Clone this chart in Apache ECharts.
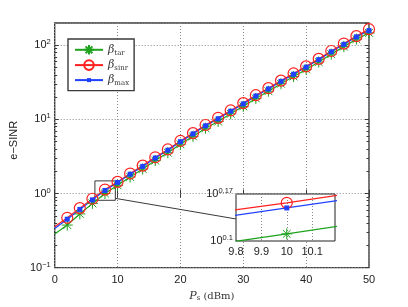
<!DOCTYPE html>
<html><head><meta charset="utf-8">
<script src="https://cdn.jsdelivr.net/npm/echarts@6/dist/echarts.min.js"></script>
<style>html,body{margin:0;padding:0;background:#fff}#c{width:408px;height:307px}</style>
</head><body><div id="c"></div>
<script>
// ---- data ----
const powerDbm = [0,2,4,6,8,10,12,14,16,18,20,22,24,26,28,30,32,34,36,38,40,42,44,46,48,50];
const betaTar  = [0.285,0.375,0.53,0.735,1.0,1.29,1.67,2.14,2.78,3.55,4.62,5.9,7.6,9.35,11.9,15.0,19.2,24.0,30.3,37.9,47.3,59.5,76,96,121,147];
const betaSinr = [0.356,0.47,0.635,0.85,1.13,1.435,1.86,2.38,3.08,3.93,5.12,6.53,8.4,10.5,13.2,16.6,21.2,26.4,33.4,41.7,52,65.6,83.8,105.5,133,165];
const betaMax  = [0.338,0.45,0.61,0.82,1.10,1.41,1.82,2.32,3.01,3.84,5.0,6.38,8.2,10.2,12.9,16.2,20.7,25.8,32.6,40.7,50.8,64,81.8,103,130,158];
const seriesNames = ['tar','sinr','max'];
const yMinorTicks = [0.2,0.3,0.4,0.5,0.6,0.7,0.8,0.9,2,3,4,5,6,7,8,9,20,30,40,50,60,70,80,90];
const insetYExponents = [0.1,0.17];
const zoomBox = {x0:6.4, x1:9.65, y0:0.81, y1:1.48};
const arrowLine = {from:[9.65,0.86], to:[28.8,0.454]};

// ---- styles ----
const GREEN='#1fa31f', RED='#ff2020', BLUE='#2040ff', FRAME='#3a3a3a';
const STAR='path://M0,-10L0,10M-10,0L10,0M-7.07,-7.07L7.07,7.07M-7.07,7.07L7.07,-7.07';
// small square inside a larger invisible frame so the legend icon stays small
const SMALLSQ='path://M-12,-12M12,12M-5,-5L5,-5L5,5L-5,5Z';
const SANS='Liberation Sans, Arial, sans-serif';
const SERIF='DejaVu Serif, Liberation Serif, serif';

function mkData(vals){
  return powerDbm.map((x,i)=> i===0 ? {value:[x,vals[i]], symbol:'none'} : [x,vals[i]]);
}
function mkLogData(vals){
  return powerDbm.map((x,i)=> [x, Math.log10(vals[i])]);
}
const styles = {
  tar:  {color:GREEN, symbol:STAR, size:11, item:{color:'rgba(0,0,0,0)', borderColor:GREEN, borderWidth:1}},
  sinr: {color:RED, symbol:'circle', size:11, item:{color:'rgba(0,0,0,0)', borderColor:RED, borderWidth:1.2}},
  max:  {color:BLUE, symbol:SMALLSQ, size:12, item:{color:BLUE, borderWidth:0}}
};
const valuesByName = {tar:betaTar, sinr:betaSinr, max:betaMax};

const series = [];
seriesNames.forEach(n=>{
  const s = styles[n];
  series.push({
    name:n, type:'line', xAxisIndex:0, yAxisIndex:0, data:mkData(valuesByName[n]),
    symbol:s.symbol, symbolSize:s.size, showAllSymbol:true, z:3,
    lineStyle:{color:s.color, width:1.2}, itemStyle:s.item, animation:false
  });
});
// annotation: zoom box + arrow on main axes
series.push({
  type:'line', xAxisIndex:0, yAxisIndex:0, data:[], animation:false, silent:true,
  markArea:{silent:true, itemStyle:{color:'rgba(0,0,0,0)', borderColor:FRAME, borderWidth:1},
    data:[[{xAxis:zoomBox.x0, yAxis:zoomBox.y0},{xAxis:zoomBox.x1, yAxis:zoomBox.y1}]]},
  markLine:{silent:true, symbol:['none','arrow'], symbolSize:[0,8], label:{show:false},
    lineStyle:{color:FRAME, width:1, type:'solid'},
    data:[[{coord:arrowLine.from},{coord:arrowLine.to}]]}
});
// inset series
seriesNames.forEach(n=>{
  const s = styles[n];
  series.push({
    name:n, type:'line', xAxisIndex:2, yAxisIndex:4, data:mkLogData(valuesByName[n]),
    symbol:s.symbol, symbolSize:s.size, showAllSymbol:true, z:12, clip:true,
    lineStyle:{color:s.color, width:1.2}, itemStyle:s.item, animation:false
  });
});

const supRich = {
  b:{fontFamily:SANS, fontSize:11, color:'#222'},
  e:{fontFamily:SANS, fontSize:7.5, color:'#222', verticalAlign:'top', padding:[0,0,6,0]}
};
const minusFmt = v => String(v).replace('-','\u2212');

const option = {
  backgroundColor:'#fff',
  animation:false,
  grid:[
    {left:53, top:23, width:316, height:250, show:true, borderColor:FRAME, borderWidth:1.4, backgroundColor:'#fff', z:0},
    {left:236, top:194, width:99, height:47, show:true, borderColor:'#222', borderWidth:1, backgroundColor:'#fff', z:10}
  ],
  legend:{
    left:68, top:39, orient:'vertical', itemWidth:28, itemHeight:12, itemGap:3,
    padding:[5,5,4,6], borderColor:FRAME, borderWidth:1.4, backgroundColor:'#fff',
    data:seriesNames, z:20,
    formatter: n => `{b|β}{s|${n}}`,
    textStyle:{rich:{
      b:{fontFamily:SERIF, fontStyle:'italic', fontSize:11, color:'#333'},
      s:{fontFamily:SERIF, fontSize:7, color:'#333', padding:[6,0,0,0]}
    }}
  },
  xAxis:[
    {type:'value', gridIndex:0, min:0, max:50, interval:10, position:'bottom',
     axisLine:{show:false}, axisTick:{show:true, inside:true, length:4, lineStyle:{color:FRAME}},
     splitLine:{show:true, lineStyle:{color:'#888', type:[1,2], width:1}},
     axisLabel:{fontFamily:SANS, fontSize:11, color:'#222', margin:7},
     name:'{i|P}{s|s}{n| (dBm)}', nameLocation:'middle', nameGap:20,
     nameTextStyle:{rich:{
       i:{fontFamily:SERIF, fontStyle:'italic', fontSize:11, color:'#333'},
       s:{fontFamily:SERIF, fontSize:7, color:'#333', padding:[5,0,0,0]},
       n:{fontFamily:SERIF, fontSize:10, color:'#333'}
     }}},
    {type:'value', gridIndex:0, min:0, max:50, interval:10, position:'top',
     axisLine:{show:false}, axisTick:{show:true, inside:true, length:4, lineStyle:{color:FRAME}},
     splitLine:{show:false}, axisLabel:{show:false}},
    {type:'value', gridIndex:1, min:9.8, max:10.19, interval:0.1, z:11,
     axisLine:{show:false}, axisTick:{show:false},
     splitLine:{show:true, lineStyle:{color:'#888', type:[1,2], width:1}},
     axisLabel:{fontFamily:SANS, fontSize:11, color:'#222', margin:5, showMaxLabel:false, showMinLabel:true,
       formatter:v=>String(Number(v.toFixed(2)))}}
  ],
  yAxis:[
    {type:'log', gridIndex:0, logBase:10, min:0.1, max:200, position:'left',
     axisLine:{show:false}, axisTick:{show:true, inside:true, length:4, lineStyle:{color:FRAME}},
     splitLine:{show:true, lineStyle:{color:'#888', type:[1,2], width:1}},
     axisLabel:{margin:4, showMaxLabel:false,
       formatter:v=>{const l=Math.log10(v); if(Math.abs(l-Math.round(l))>1e-6) return ''; return `{b|10}{e|${minusFmt(Math.round(l))}}`;},
       rich:supRich},
     name:'e\u2212SINR', nameLocation:'middle', nameGap:19,
     nameTextStyle:{fontFamily:SANS, fontSize:11, color:'#222', padding:[0,0,0,10]}},
    {type:'value', gridIndex:0, min:-1, max:Math.log10(200), position:'left',
     axisLine:{show:false}, splitLine:{show:false}, axisLabel:{show:false},
     axisTick:{show:true, inside:true, length:2.5, lineStyle:{color:FRAME}, customValues:yMinorTicks.map(Math.log10)}},
    {type:'log', gridIndex:0, logBase:10, min:0.1, max:200, position:'right',
     axisLine:{show:false}, splitLine:{show:false}, axisLabel:{show:false},
     axisTick:{show:true, inside:true, length:4, lineStyle:{color:FRAME}}},
    {type:'value', gridIndex:0, min:-1, max:Math.log10(200), position:'right',
     axisLine:{show:false}, splitLine:{show:false}, axisLabel:{show:false},
     axisTick:{show:true, inside:true, length:2.5, lineStyle:{color:FRAME}, customValues:yMinorTicks.map(Math.log10)}},
    {type:'value', gridIndex:1, min:0.1, max:0.17, z:11,
     axisLine:{show:false}, axisTick:{show:false}, splitLine:{show:false},
     axisLabel:{customValues:insetYExponents, margin:3,
       formatter:v=>`{b|10}{e|${Number(v.toFixed(2))}}`, rich:supRich}}
  ],
  series
};
const chart = echarts.init(document.getElementById('c'), null, {renderer:'canvas'});
chart.setOption(option);
</script>
</body></html>
